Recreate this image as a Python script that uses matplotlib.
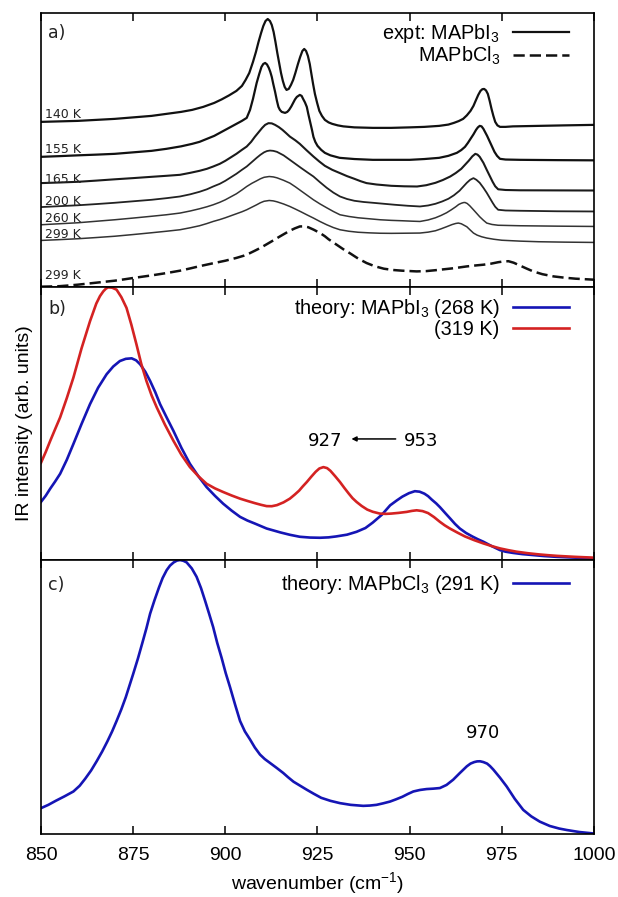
import matplotlib
matplotlib.use('Agg')
import matplotlib.pyplot as plt

plt.rcParams['font.family'] = ['Liberation Sans', 'DejaVu Sans']
plt.rcParams['mathtext.fontset'] = 'custom'
plt.rcParams['mathtext.rm'] = 'Liberation Sans'
plt.rcParams['mathtext.it'] = 'Liberation Sans:italic'

### a) experiment, MAPbI3 at several temperatures (offset traces, arb. units)
w_140 = [850, 855, 860, 865, 870, 875, 880, 884, 888, 891, 894, 897, 899, 901, 903, 904.5, 905.5,
         906.5, 907.5, 908.3, 909, 909.7, 910.3, 910.9, 911.5, 912.1, 912.6, 913.1, 913.6, 914.1,
         914.6, 915.1, 915.6, 916.1, 916.6, 917.2, 917.8, 918.4, 919, 919.7, 920.3, 920.9, 921.4,
         921.9, 922.4, 922.9, 923.3, 923.8, 924.3, 924.9, 925.5, 926.2, 927, 928, 929, 930.5, 932,
         935, 940, 945, 950, 954, 958, 960.5, 962, 963.3, 964.5, 965.5, 966.5, 967.3, 968, 968.6,
         969.2, 969.7, 970.2, 970.7, 971.2, 971.7, 972.2, 972.7, 973.2, 973.8, 974.5, 976, 978,
         985, 992, 1000]
i_140 = [165, 165.5, 166, 167, 168, 169.5, 171, 173, 175, 177, 180, 184, 187.5, 191.5, 196, 201, 207,
         214, 225, 235, 245, 254, 261, 266, 268, 266, 262, 255, 245, 234,
         224, 214, 206, 200, 197, 198, 202, 207, 214, 223, 230, 236, 238,
         236, 231, 223, 214, 203, 193, 184, 176, 171, 167, 164.5, 163, 161.5, 160.5,
         159.5, 159, 159, 159.5, 160, 161, 162.3, 164, 165.8, 168, 171.5, 176, 181, 187, 192,
         196, 197.7, 198, 196.5, 193, 186, 178, 171, 165, 161.5, 160, 160, 160.5,
         161, 161.5, 162]

w_155 = [850, 855, 860, 865, 870, 875, 880, 884, 888, 891, 893, 895, 897, 899, 901, 903, 904.5,
         905.8, 906.7, 907.5, 908, 908.5, 909.2, 909.8, 910.3, 910.8, 911.3, 911.8, 912.2, 912.6,
         913, 913.5, 914, 914.4, 914.8, 915.3, 916.2, 916.8, 917.3, 917.9, 918.4, 918.9, 919.4,
         920.2, 920.7, 921.1, 921.6, 922.1, 922.5, 923, 923.5, 923.9, 924.4, 925, 926, 927, 928.5,
         931, 935, 940, 945, 950, 954, 958, 960.5, 962.8, 964, 965, 965.8, 966.5, 967.3, 968,
         968.5, 969, 969.5, 970, 970.5, 971, 971.5, 972, 972.5, 973, 973.7, 974.5, 976, 980, 990,
         1000]
i_155 = [130, 130.7, 131.5, 132.2, 133, 134.5, 136, 138, 140.5, 143, 145, 148, 151, 155, 159, 163, 166,
         169, 177, 188, 196, 204, 213, 220, 223, 224, 222.5, 219, 215, 210,
         203, 195, 186, 180, 177, 175, 174, 175, 177, 180.5, 184, 187.5, 190,
         192, 191, 188, 184.5, 180, 173, 165, 157, 150, 145, 141, 137, 134, 131.5,
         129, 127.8, 127, 127, 127, 127.8, 129, 131, 134, 136.8, 140, 144, 148, 152.5, 157,
         159.5, 161, 160.5, 158, 154.5, 151, 147, 143, 139, 135, 131, 128, 127.3, 127, 126.7,
         126.5]

w_165 = [850, 855, 860, 865, 870, 875, 880, 884, 887.7, 890.5, 893, 895, 896.7, 898.5, 900, 901.5,
         903, 904.5, 905.8, 907, 908, 909, 910, 910.8, 911.7, 912.6, 913.5, 914.5, 915.5, 916.5,
         917.5, 919, 920.2, 922, 923.9, 925.5, 927, 929, 931.1, 933, 935, 936.7, 938.3, 941, 945,
         948.5, 952, 954.5, 957, 959, 961, 962.5, 964, 965, 966, 967, 967.8, 968.4, 969, 970,
         970.9, 971.7, 972.5, 973.2, 974, 976, 980, 990, 1000]
i_165 = [103.7, 104.3, 105, 106.2, 107.5, 108.7, 110, 111, 112, 114, 116, 118, 120.3, 123, 126, 129.5,
         133, 137, 140.3, 145, 150, 154.5, 159, 162, 163.7, 163.5, 162, 159.8, 157, 153.7,
         150.3, 146.5, 143, 136.7, 130.3, 125.3, 121, 117, 113.7, 110.7, 108, 105.6, 103.7, 102.3, 101,
         100.5, 100.3, 101.6, 104, 106.8, 110.3, 113.8, 118, 122, 126, 130.5, 133, 132.2, 130, 124,
         117, 111, 105, 100.5, 97.5, 96.8, 96.5, 96.4, 96.3]

w_200 = [850, 855, 860, 865, 870, 875, 880, 884, 887.7, 890.5, 893, 895, 896.7, 898.5, 900, 901.5,
         903, 904.5, 905.8, 907.2, 908.5, 909.5, 910.5, 911.3, 912.1, 913, 914, 915.8, 917.5, 919,
         920.5, 922.2, 923.9, 925.7, 927.5, 929.3, 931.1, 933, 935, 937.5, 940, 943, 946, 949.5,
         952.8, 955, 957, 958.8, 960.5, 962, 963.5, 964.5, 965.5, 966.4, 967.3, 968.1, 969, 970,
         970.9, 971.7, 972.5, 973.2, 974, 976, 980, 990, 1000]
i_200 = [79.7, 80.6, 81.5, 82.7, 84, 85.5, 87, 88.6, 90.3, 92.5, 95, 97.5, 100.3, 103, 106, 109.5,
         113, 117, 120.3, 124.8, 129, 132, 134.5, 135.8, 136.3, 136, 135, 131.5, 127, 123,
         119, 114.6, 110.3, 104.5, 99, 94.2, 90.3, 87.8, 86, 84.8, 84, 83, 82, 81,
         80.3, 81.3, 83, 85.3, 88, 91.5, 96, 100, 104, 107, 108.7, 107, 104, 99,
         94, 89, 84, 80, 77, 76.3, 76, 75.5, 75.3]

w_260 = [850, 855, 860, 865, 870, 875, 880, 884, 887.7, 890.5, 893, 895, 896.7, 898.5, 900, 901.5,
         903, 904.5, 905.8, 907.2, 908.5, 909.5, 910.5, 911.9, 913, 914, 915.8, 917.5, 919, 920.5,
         922.2, 923.9, 925.7, 927.5, 929.3, 931.1, 933.5, 936, 939, 942, 945, 948, 950.5, 952.8,
         955, 957, 958.5, 960, 961.3, 962.5, 963.3, 964, 964.6, 965, 965.6, 966.3, 967.3, 968.2,
         969, 970, 970.9, 972.3, 974, 980, 990, 1000]
i_260 = [62, 63, 64, 65.5, 67, 68.7, 70.5, 72, 73.7, 75.8, 78, 80, 82, 84.5, 87, 90,
         93, 96.8, 100.3, 103.5, 106, 108, 109.5, 110.3, 109.9, 109, 106.5, 103.7, 100, 96,
         91.5, 87, 82.8, 79, 75.3, 72, 70.3, 69, 68, 67, 66.4, 66, 65.6, 65.3,
         66.8, 69, 71.3, 74, 77, 80, 82.3, 83.5, 84.2, 84.3, 83.3, 81, 77, 73.3,
         70, 66.5, 63.7, 62.3, 61.5, 61, 60.6, 60.3]

w_299 = [850, 855, 860, 865, 870, 875, 880, 884, 887.7, 890.5, 893, 895, 896.7, 898.5, 900, 901.5,
         903, 904.5, 905.8, 907.2, 908.5, 909.5, 910.5, 911.9, 913, 914, 915.8, 917.5, 919, 920.5,
         922.2, 923.9, 925.7, 927.5, 929.3, 931.1, 933.5, 936, 939, 942, 945, 948, 950.5, 952.8,
         955, 957, 958.5, 960, 961.5, 962.5, 963.2, 964, 965.5, 966.4, 967.3, 968.3, 969.5, 970.9,
         972.8, 975, 980, 985, 992, 1000]
i_299 = [46.3, 47.1, 48, 49.2, 50.5, 52.2, 54, 55.5, 57, 59, 61, 63.2, 65.3, 67.2, 69, 71,
         73, 75, 77, 79.6, 82, 84, 85.5, 86.3, 85.9, 85, 82.8, 80.3, 77.7, 75,
         71.8, 68.7, 65.2, 62, 59.2, 57, 55.5, 54.5, 53.9, 53.5, 53.4, 53.5, 53.6, 53.7,
         54.6, 56, 57.9, 60, 62.2, 63.3, 63.7, 63, 60, 56.8, 53.7, 51.6, 50, 48.7,
         47.5, 46.5, 45.6, 45, 44.6, 44.3]

# MAPbCl3, 299 K (dashed)
w_cl = [850, 852.5, 855, 857.5, 860, 862.5, 865, 867.5, 870, 872.5, 875, 880, 884, 887.7, 890.5,
        893, 896.5, 900, 903, 905, 906.5, 908, 909.5, 911, 913, 914.8, 916.3, 917.5, 918.8, 920.2,
        921.4, 922.5, 924, 925.7, 927, 928, 929.2, 930.2, 932, 934, 936, 938.3, 940.5, 943, 945.5,
        948, 951.9, 954.5, 957, 959.5, 962, 965.5, 968, 970, 972, 974, 975.5, 976.8, 978.2, 980,
        981.8, 983.5, 986, 989, 992, 995, 1000]
i_cl = [0, 0.2, 0.5, 1.2, 2, 3, 4, 5, 6, 7.3, 8.7, 11.3, 13.6, 16, 18.3,
        20.5, 23.3, 26, 28.8, 31, 33.3, 36, 38.8, 42, 46.3, 50.3, 53.5, 56, 58.3, 60.3,
        60.4, 59.5, 57, 53.7, 50.5, 47.5, 44.5, 42, 37.5, 33, 28.2, 23.7, 20.5, 18, 16.7,
        16, 15.3, 15.6, 16.5, 17.5, 18.5, 20.3, 21.3, 22, 23, 24.5, 25.3, 25.5, 24, 21,
        18, 15.3, 12.5, 10.3, 9, 8, 7]

temps_a = ['140 K', '155 K', '165 K', '200 K', '260 K', '299 K']
temp_label_h = [172, 137, 107, 85.3, 68.7, 52]
cl_label = '299 K'
cl_label_h = 11

### b) theory MAPbI3
w_268 = [850, 851.3, 852.5, 853.8, 855.2, 857, 858.8, 861, 863.3, 865.5, 867.8, 869.6, 871.4, 873,
         874.6, 875.8, 876.9, 878.3, 879.6, 881, 882.3, 884.1, 885.9, 888.1, 890.4, 892.7, 894.9,
         897.2, 899.4, 901.7, 904, 906, 908, 911.2, 915, 917.5, 920.2, 923, 925.7, 928, 930, 933,
         935.6, 938, 940, 942.5, 944.7, 946.5, 948, 949.8, 951.4, 952.7, 954, 955, 956, 957.2, 958.2,
         959.6, 961, 962.3, 963.6, 965.3, 967, 968.5, 970, 972.3, 974.5, 976, 978, 980.5, 983.5,
         986.5, 990, 995, 1000]
i_268 = [58.7, 65, 72, 79, 87, 101, 117, 137, 157, 173.5, 187, 194.8, 200.3, 202.5,
         203, 201, 197, 189.5, 180.3, 169, 157, 143.5, 130.3, 113, 97, 84.5, 73.7,
         64.8, 57, 50, 43.7, 40, 37, 32, 28, 25.7, 23.7, 22.9, 22.7, 23.1, 24, 25.8,
         28.7, 32.5, 38, 46, 55.3, 60.2, 64, 67.5, 69.5, 69, 67, 64.5, 61, 57.2, 53.5,
         47.7, 42, 36.6, 32, 27.5, 24, 21.2, 18.7, 14.2, 10.3, 8.7, 7.5, 6.3, 5.3,
         4.3, 3.5, 2.7, 2]

w_319 = [850, 851.3, 852.5, 853.8, 855.2, 857, 858.8, 861, 863.3, 865, 866, 866.9, 867.6, 868.2,
         869.3, 870.5, 871.8, 873.2, 874.5, 875.9, 877.2, 878.6, 880, 881.4, 883.6, 885.9, 888.1,
         890.4, 892.7, 894.9, 897.2, 899.4, 901.7, 904, 906, 908, 909.7, 911.2, 912.6, 914, 915.8,
         917.5, 918.8, 920, 921, 922.1, 923.3, 924.5, 925.5, 926.6, 927.6, 928.5, 929.8, 931.1,
         932.3, 933.5, 934.5, 935.6, 937, 938.5, 940, 941.9, 943.5, 945, 947, 949.2, 950.6, 951.9,
         953.5, 955, 956.6, 958.2, 959.5, 960.9, 963, 965, 967.5, 970, 972.3, 974.5, 976.8, 979,
         982, 985, 987.5, 990, 995, 1000]
i_319 = [98, 109, 120, 131.5, 143.7, 163, 183.7, 213, 240.3, 258, 265.5, 270.3, 273, 274.3,
         274, 272, 264.5, 253.7, 237, 217, 197.5, 180.3, 165.8, 153.7, 136.5, 120.3, 106,
         93.7, 84.5, 77, 72.3, 68.7, 65.2, 62, 59.7, 57.5, 55.8, 54.5, 54.4, 55.5, 58.3,
         62, 66, 70, 74.3, 78.7, 84, 89, 92.3, 93.7, 92.7, 90, 84.5, 78.7,
         72.7, 67, 62.5, 58.7, 54.6, 51, 48.8, 47, 46.7, 47, 47.7, 48.7, 49.7, 50.3,
         49.5, 47.5, 43.5, 38.7, 35.2, 32, 27.8, 24, 20.3, 17, 14.3, 12, 10.2, 8.7,
         7.2, 6, 5.2, 4.5, 3.5, 2.7]

### c) theory MAPbCl3, 291 K
w_291 = [850, 852, 854, 856.4, 858.8, 860.5, 862, 863.6, 865.1, 866.6, 868, 869.3, 870.5, 871.8,
         873, 874, 875, 876.3, 877.5, 878.6, 879.6, 880.8, 882, 883, 884.1, 885, 886, 886.9, 887.7,
         888.6, 889.5, 890.9, 892.2, 893.4, 894.5, 895.6, 896.7, 897.8, 899, 900.1, 901.3, 902.7,
         904, 905.3, 906.7, 908, 909.4, 910.7, 912.1, 913.9, 915.7, 917, 918.5, 920.3, 922.1, 924,
         926, 928.5, 931.1, 934, 937.4, 939.2, 941, 942.8, 944.7, 946.3, 948, 949.5, 951, 952.8,
         954.6, 956.4, 958.2, 960, 961.8, 963.6, 965.5, 966.5, 967.5, 968.3, 969.1, 970, 971,
         971.8, 972.7, 974.5, 976.3, 978.5, 980.8, 983, 985.3, 988, 990.5, 992.6, 996, 1000]
i_291 = [25.7, 29, 33, 37.5, 42.3, 48, 55, 63.2, 72.3, 82, 92, 102, 112.3, 124,
         136, 147.5, 159, 174.5, 190, 204.5, 219, 232.5, 245, 254.5, 262.3, 266.8, 270, 271.8, 272.3,
         271.6, 270, 264, 255.7, 244.5, 232, 219, 205.7, 190, 175, 160, 145.7, 128,
         112.3, 102, 94, 86, 79, 74.5, 70.7, 65.8, 60.7, 56.5, 52, 48, 44, 40,
         36, 33, 30.7, 29, 28, 28.3, 29, 30.5, 32.3, 34.5, 37, 39.8, 42.3, 43.8,
         44.7, 45.1, 45.7, 48.8, 54, 60.6, 67.3, 70, 71.5, 72.2, 72.3, 71.5, 70,
         67.5, 64, 56, 47.3, 35, 24, 17.5, 12.3, 8, 5.5, 4, 2, 0.5]

shift_from, shift_to = 953, 927
peak_c = 970


fig, axes = plt.subplots(3, 1, sharex=True, figsize=(6.18, 8.97), dpi=100)
plt.subplots_adjust(left=0.0663, right=0.9612, top=0.9855, bottom=0.0702, hspace=0)
ax_a, ax_b, ax_c = axes

leg_kw = dict(loc='upper right', frameon=False, markerfirst=False, fontsize=14.3,
              handlelength=2.85, handletextpad=0.64, labelspacing=0.0, borderpad=0, borderaxespad=0)

###a) 实验谱
ax_a.plot(w_140, i_140, color='#111111', lw=1.6, label='expt: MAPbI$_3$')
ax_a.plot(w_155, i_155, color='#111111', lw=1.6)
ax_a.plot(w_165, i_165, color='#1a1a1a', lw=1.5)
ax_a.plot(w_200, i_200, color='#222222', lw=1.3)
ax_a.plot(w_260, i_260, color='#333333', lw=1.1)
ax_a.plot(w_299, i_299, color='#333333', lw=1.1)
ax_a.plot(w_cl, i_cl, color='#111111', lw=1.8, dashes=(4.5, 2), label='MAPbCl$_3$')
for t, h in zip(temps_a, temp_label_h):
    ax_a.text(851.2, h, t, fontsize=9, family='DejaVu Sans', color='#222222', va='center')
ax_a.text(851.2, cl_label_h, cl_label, fontsize=9, family='DejaVu Sans', color='#222222', va='center')
ax_a.set_ylim(0, 274)
ax_a.legend(bbox_to_anchor=(0.955, 0.967), **leg_kw)

###b) 理论 MAPbI3
ax_b.plot(w_268, i_268, color='#1515b5', lw=1.9, label='theory: MAPbI$_3$ (268 K)')
ax_b.plot(w_319, i_319, color='#d42222', lw=1.9, label='(319 K)')
ax_b.set_ylim(0, 275)
ax_b.legend(bbox_to_anchor=(0.955, 0.961), **leg_kw)
ax_b.text(shift_to, 120.3, str(shift_to), fontsize=13, family='DejaVu Sans', ha='center', va='center')
ax_b.text(shift_from, 120.3, str(shift_from), fontsize=13, family='DejaVu Sans', ha='center', va='center')
ax_b.annotate('', xy=(934.2, 122), xytext=(946.2, 122),
              arrowprops=dict(arrowstyle='-|>', color='black', lw=1.1, mutation_scale=7,
                              shrinkA=0, shrinkB=0))
ax_b.set_ylabel('IR intensity (arb. units)', fontsize=14)
ax_b.yaxis.set_label_coords(-0.0145, 0.5)

###c) 理论 MAPbCl3
ax_c.plot(w_291, i_291, color='#1515b5', lw=1.9, label='theory: MAPbCl$_3$ (291 K)')
ax_c.set_ylim(0, 272)
ax_c.legend(bbox_to_anchor=(0.955, 0.954), **leg_kw)
ax_c.text(peak_c, 100.7, str(peak_c), fontsize=13, family='DejaVu Sans', ha='center', va='center')
ax_c.set_xlabel('wavenumber (cm$^{-1}$)', fontsize=14, labelpad=5)

for i, ax in enumerate(axes):
    ax.set_xlim(850, 1000)
    ax.set_yticks([])
    ax.tick_params(axis='x', direction='in', top=True, bottom=True, length=6, width=1.1,
                   labelsize=14, pad=9)
    for s in ax.spines.values():
        s.set_linewidth(1.2)
    ax.text(0.013, [0.926, 0.919, 0.909][i], ['a)', 'b)', 'c)'][i], transform=ax.transAxes,
            fontsize=12.5, family='DejaVu Sans', color='#222222', va='center')
ax_c.set_xticks([850, 875, 900, 925, 950, 975, 1000])

plt.savefig('out.png', dpi=100)
